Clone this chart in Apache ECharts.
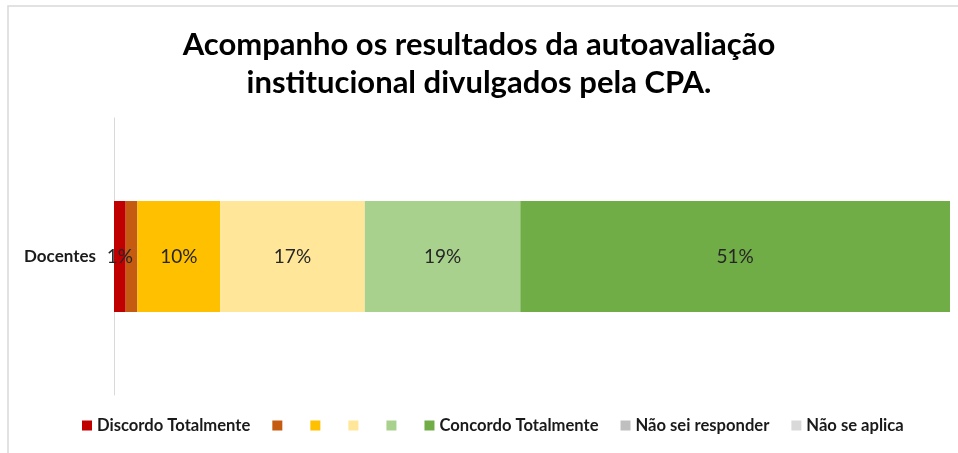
<!DOCTYPE html>
<html>
<head>
<meta charset="utf-8">
<script src="https://cdn.jsdelivr.net/npm/echarts@6/dist/echarts.min.js"></script>
<style>
  html, body { margin: 0; padding: 0; background: #fff; }
  #chart { width: 958px; height: 453px; }
</style>
</head>
<body>
<div id="chart"></div>
<script>
const categories = ['Docentes']
const seriesNames = ['Discordo Totalmente', ' ', '  ', '   ', '    ', 'Concordo Totalmente', 'Não sei responder', 'Não se aplica']
const seriesValues = [1.4, 1.4, 9.9, 17.3, 18.6, 51.4, 0, 0]
const seriesColors = ['#C00000', '#C55A11', '#FFC000', '#FFE699', '#A9D18E', '#70AD47', '#BFBFBF', '#D9D9D9']
const showLabel = [true, false, true, true, true, true, false, false]

const chart = echarts.init(document.getElementById('chart'))

const series = seriesNames.map((name, i) => ({
  name,
  type: 'bar',
  stack: 'total',
  barWidth: 111,
  itemStyle: { color: seriesColors[i] },
  label: {
    show: showLabel[i],
    position: 'inside',
    color: '#262626',
    fontFamily: 'Lato',
    fontSize: 19,
    formatter: (p) => Math.round(p.value) + '%'
  },
  emphasis: { disabled: true },
  data: [seriesValues[i]]
}))

chart.setOption({
  animation: false,
  title: {
    text: 'Acompanho os resultados da autoavaliação\ninstitucional divulgados pela CPA.',
    left: 'center',
    top: 21,
    textStyle: {
      fontFamily: 'Lato',
      fontWeight: 'bold',
      fontSize: 31,
      lineHeight: 38,
      color: '#000'
    }
  },
  legend: {
    bottom: 14,
    left: 77,
    itemWidth: 10,
    itemHeight: 10,
    itemGap: 22,
    icon: 'rect',
    // categorias sem nome: um espaço fino mantém o espaçamento do original
    formatter: (name) => name.trim() || '\u200a',
    textStyle: {
      fontFamily: 'Lato',
      fontWeight: 'bold',
      fontSize: 16.6,
      color: '#1a1a1a'
    },
    data: seriesNames
  },
  grid: { left: 114, right: 8, top: 118, bottom: 58 },
  xAxis: {
    type: 'value',
    min: 0,
    max: 100,
    show: false
  },
  yAxis: {
    type: 'category',
    data: categories,
    axisLine: { lineStyle: { color: '#D9D9D9', width: 1 } },
    axisTick: { show: false },
    axisLabel: {
      fontFamily: 'Lato',
      fontWeight: 'bold',
      fontSize: 17,
      color: '#1a1a1a',
      margin: 18
    }
  },
  graphic: [{
    type: 'rect',
    shape: { x: 8, y: 6, width: 980, height: 480 },
    style: { fill: 'none', stroke: '#D9D9D9', lineWidth: 1.5 },
    silent: true
  }],
  series
})
</script>
</body>
</html>
